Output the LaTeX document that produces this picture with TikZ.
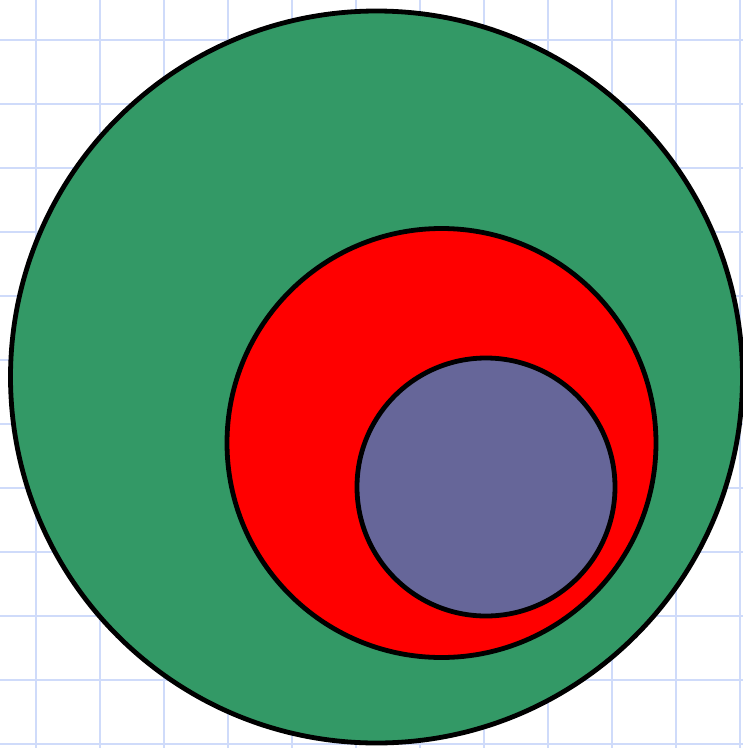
\documentclass[tikz,border=0pt]{standalone}
\definecolor{paper}{HTML}{CFDBFA}
\definecolor{outerfill}{HTML}{339966}
\definecolor{middlefill}{HTML}{FF0000}
\definecolor{innerfill}{HTML}{666699}

\begin{document}
\begin{tikzpicture}[
  x=1pt,y=-1pt,
  gridline/.style={draw=paper,line width=2pt},
  disc/.style={draw=black,line width=4.8pt}
]
\useasboundingbox (0,0) rectangle (743,748);
\fill[white] (0,0) rectangle (743,748);
% background grid
\foreach \gx in {36,100,...,740} \draw[gridline] (\gx,0) -- (\gx,748);
\foreach \gy in {40,104,...,744} \draw[gridline] (0,\gy) -- (743,\gy);

\coordinate (outer) at (376.5,377);
\coordinate (middle) at (441.5,443);
\coordinate (inner) at (486,487);
\draw[disc,fill=outerfill] (outer) circle[radius=366];
\draw[disc,fill=middlefill] (middle) circle[radius=214.5];
\draw[disc,fill=innerfill] (inner) circle[radius=129];
\end{tikzpicture}
\end{document}
